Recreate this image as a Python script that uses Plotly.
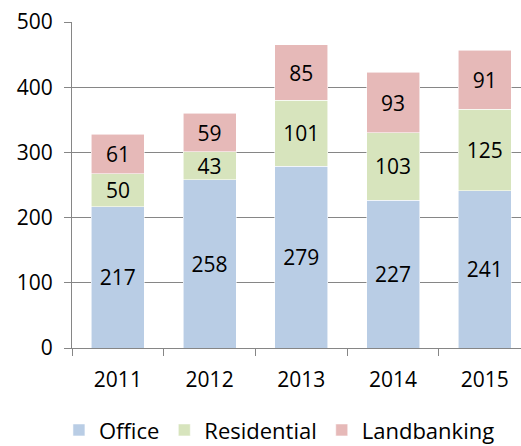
import plotly.graph_objects as go

years = ["2011", "2012", "2013", "2014", "2015"]
office = [217, 258, 279, 227, 241]
residential = [50, 43, 101, 103, 125]
landbanking = [61, 59, 85, 93, 91]

series = [
    ("Office", office, "#B9CDE5"),
    ("Residential", residential, "#D7E4BD"),
    ("Landbanking", landbanking, "#E6B9B8"),
]

FONT = "Open Sans"
fig = go.Figure()
for name, vals, color in series:
    fig.add_trace(go.Bar(
        x=years, y=vals, name=name,
        marker=dict(color=color, line=dict(width=0.8, color="rgba(255,255,255,0.7)")),
        text=vals, texttemplate="%{text}", textposition="inside",
        insidetextanchor="middle", textangle=0,
        textfont=dict(family=FONT, size=21, color="black"),
        hoverinfo="skip",
    ))

fig.update_layout(
    template="none",
    barmode="stack",
    bargap=0.422,
    width=521, height=446,
    margin=dict(l=72, r=0, t=22, b=98, autoexpand=False),
    paper_bgcolor="white", plot_bgcolor="white",
    font=dict(family=FONT, size=21, color="black"),
    uniformtext=dict(mode="show", minsize=21),
    showlegend=True,
    legend=dict(orientation="h", x=0.462, xanchor="center", y=-0.252, yanchor="middle",
                font=dict(family=FONT, size=22, color="black"), traceorder="normal",
                bgcolor="rgba(0,0,0,0)"),
    xaxis=dict(type="category", range=[-0.5, 4.394], tickson="boundaries", automargin=False,
               ticks="outside", ticklen=7, tickcolor="#868686", tickwidth=1,
               ticklabelstandoff=13,
               showline=True, linecolor="#868686", linewidth=1, showgrid=False,
               tickfont=dict(family=FONT, size=21, color="black")),
    yaxis=dict(range=[0, 500], tickvals=[0, 100, 200, 300, 400, 500], automargin=False,
               ticks="outside", ticklen=7, tickcolor="#868686", tickwidth=1,
               ticklabelstandoff=7,
               showline=True, linecolor="#868686", linewidth=1,
               showgrid=True, gridcolor="#868686", gridwidth=1, zeroline=False,
               tickfont=dict(family=FONT, size=21, color="black")),
)

fig.write_html("out.html",
               config={"displayModeBar": False, "staticPlot": True},
               post_script="document.body.style.margin='0';document.body.style.overflow='hidden';")
